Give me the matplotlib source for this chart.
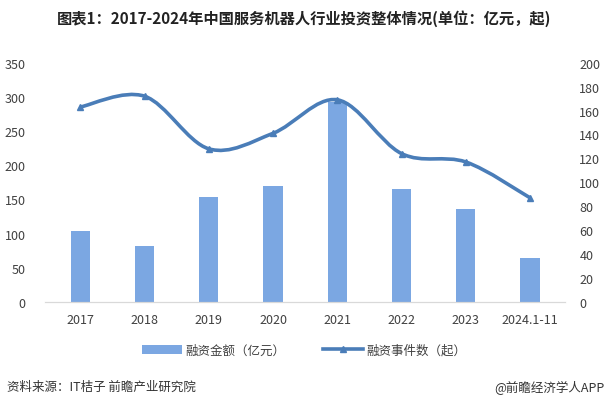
import matplotlib.pyplot as plt
from matplotlib.path import Path
from matplotlib.patches import PathPatch
import numpy as np

plt.rcParams["font.family"] = ["Noto Sans CJK SC", "DejaVu Sans"]

categories = ["2017", "2018", "2019", "2020", "2021", "2022", "2023", "2024.1-11"]
amount = [104, 82, 154, 170, 293, 165, 136, 64]       # 亿元
events = [163, 172, 128, 141, 169, 124, 117, 87]       # 起

BAR_COLOR = "#7BA7E2"
LINE_COLOR = "#4A7DB8"
TEXT_COLOR = "#404040"


def smooth_path(x, y, tension=1 / 6):
    """Cubic Bezier path through the points (Excel-like smoothed line)."""
    x = np.asarray(x, float)
    y = np.asarray(y, float)
    verts = [(x[0], y[0])]
    codes = [Path.MOVETO]
    n = len(x)
    for i in range(n - 1):
        p0 = (x[max(i - 1, 0)], y[max(i - 1, 0)])
        p1 = (x[i], y[i])
        p2 = (x[i + 1], y[i + 1])
        p3 = (x[min(i + 2, n - 1)], y[min(i + 2, n - 1)])
        c1 = (p1[0] + (p2[0] - p0[0]) * tension, p1[1] + (p2[1] - p0[1]) * tension)
        c2 = (p2[0] - (p3[0] - p1[0]) * tension, p2[1] - (p3[1] - p1[1]) * tension)
        verts += [c1, c2, p2]
        codes += [Path.CURVE4] * 3
    return Path(verts, codes)


fig = plt.figure(figsize=(6.08, 4.06), dpi=100)
ax = fig.add_axes([0.074, 0.254, 0.856, 0.589])
ax2 = ax.twinx()

x = np.arange(len(categories))
ax.bar(x, amount, width=0.3, color=BAR_COLOR, label="融资金额（亿元）", zorder=2)

ax2.add_patch(PathPatch(smooth_path(x, events), facecolor="none",
                        edgecolor=LINE_COLOR, linewidth=2.6, zorder=3))
ax2.plot(x, events, linestyle="none", marker="^", markersize=4, color=LINE_COLOR, zorder=4)
line_handle, = ax2.plot([], [], color=LINE_COLOR, linewidth=2.6, marker="^", markersize=4,
                        label="融资事件数（起）")

ax.set_xlim(-0.55, len(categories) - 0.45)
ax.set_ylim(0, 350)
ax.set_yticks(range(0, 351, 50))
ax2.set_ylim(0, 200)
ax2.set_yticks(range(0, 201, 20))
ax.set_xticks(x)
ax.set_xticklabels(categories)

for a in (ax, ax2):
    for side in ("top", "left", "right"):
        a.spines[side].set_visible(False)
    a.spines["bottom"].set_color("#D9D9D9")
    a.tick_params(length=0, labelsize=9, colors=TEXT_COLOR)
ax.tick_params(axis="x", pad=8)
ax.tick_params(axis="y", pad=14)
ax2.tick_params(axis="y", pad=10)

bar_handle = ax.patches[0]
fig.legend([bar_handle, line_handle], ["融资金额（亿元）", "融资事件数（起）"],
           loc="center", bbox_to_anchor=(0.5, 0.135), ncol=2, frameon=False,
           fontsize=9, labelcolor=TEXT_COLOR, handlelength=3.2, columnspacing=3,
           handletextpad=0.3)

fig.text(0.5, 0.955, "图表1：2017-2024年中国服务机器人行业投资整体情况(单位：亿元，起)",
         ha="center", va="center", fontsize=11, fontweight="bold", color="#222222")
fig.text(0.012, 0.045, "资料来源：IT桔子 前瞻产业研究院", ha="left", va="center",
         fontsize=9, color="#333333")
fig.text(0.995, 0.045, "@前瞻经济学人APP", ha="right", va="center",
         fontsize=9, color="#333333")

fig.savefig("out.png", dpi=100)
